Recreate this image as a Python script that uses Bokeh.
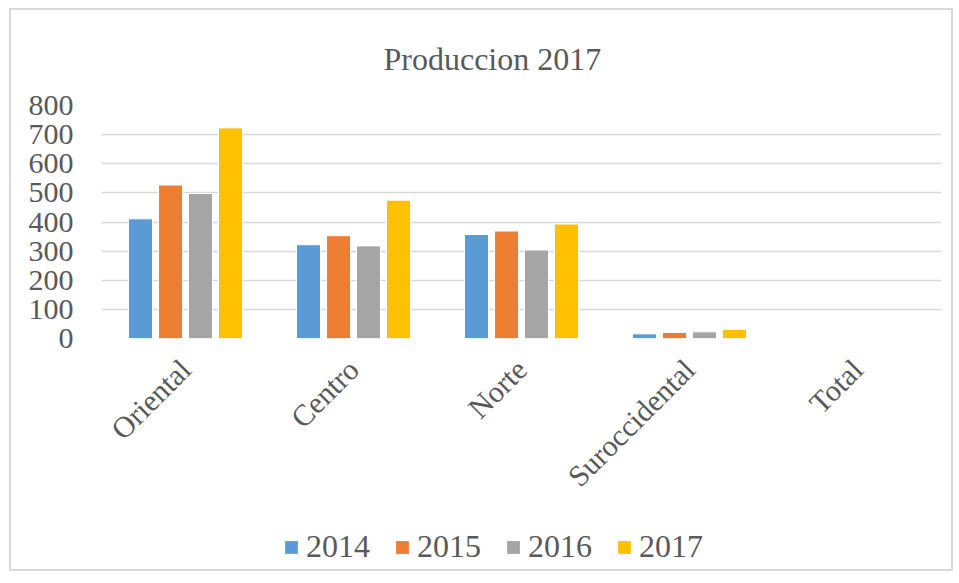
import math
from bokeh.plotting import figure
from bokeh.layouts import column
from bokeh.models import ColumnDataSource, FactorRange, Legend, LegendItem, Title, Range1d
from bokeh.transform import dodge
from bokeh.embed import file_html
from bokeh.resources import INLINE

categories = ["Oriental", "Centro", "Norte", "Suroccidental", "Total"]
years = ["2014", "2015", "2016", "2017"]
v2014 = [411, 322, 357, 16, 0]
v2015 = [527, 353, 369, 21, 0]
v2016 = [498, 318, 304, 23, 0]
v2017 = [723, 475, 393, 31, 0]
colors = ["#5B9BD5", "#ED7D31", "#A5A5A5", "#FFC000"]
y_ticks = [0, 100, 200, 300, 400, 500, 600, 700, 800]

src = ColumnDataSource(dict(cat=categories, y2014=v2014, y2015=v2015, y2016=v2016, y2017=v2017))

FONT = "Liberation Serif"
TXT = "#595959"

p = figure(x_range=FactorRange(*categories, range_padding=0), y_range=(0, 800),
           frame_width=840, frame_height=233, output_backend="svg", toolbar_location=None,
           min_border_left=90, min_border_right=10, min_border_top=94, min_border_bottom=0,
           outline_line_color=None)

offsets = [-0.268, -0.089, 0.089, 0.268]
for yr, off, c in zip(years, offsets, colors):
    p.vbar(x=dodge("cat", off, range=p.x_range), top="y" + yr, width=0.143, source=src,
           fill_color=c, line_color="white", line_width=1)

p.title = Title(text="Produccion 2017", align="left", text_font=FONT, text_font_size="32px",
                text_color=TXT, text_font_style="normal", standoff=57, offset=282)

p.xgrid.grid_line_color = None
p.ygrid.grid_line_color = "#D9D9D9"
p.ygrid.grid_line_width = 1.5
p.yaxis.ticker = y_ticks
for ax in (p.xaxis, p.yaxis):
    ax.axis_line_color = None
    ax.major_tick_line_color = None
    ax.minor_tick_line_color = None
    ax.major_label_text_font = FONT
    ax.major_label_text_color = TXT
    ax.major_label_text_font_size = "30px"
p.yaxis.major_label_standoff = 22
p.xaxis.major_label_orientation = math.pi / 4
p.xaxis.major_label_standoff = 20

# legend strip
lg = figure(x_range=Range1d(0, 1), y_range=Range1d(0, 1), frame_width=840, frame_height=62,
            output_backend="svg", toolbar_location=None, min_border_left=90, min_border_right=10,
            min_border_top=0, min_border_bottom=0, outline_line_color=None)
lg.axis.visible = False
lg.grid.visible = False
lsrc = ColumnDataSource(dict(x=[-5.0], top=[-5.0]))
lrs = [lg.vbar(x="x", top="top", width=0.1, source=lsrc, fill_color=c, line_color=None) for c in colors]
legend = Legend(items=[LegendItem(label=yr, renderers=[r]) for yr, r in zip(years, lrs)],
                orientation="horizontal", location=(182, 4), label_text_font=FONT,
                label_text_font_size="32px", label_text_color=TXT, glyph_width=16, glyph_height=16,
                label_standoff=7, spacing=24, border_line_color=None, background_fill_alpha=0,
                padding=4, margin=0)
lg.add_layout(legend, "center")

layout = column(p, lg, spacing=0, margin=(8, 0, 0, 9), styles={"border": "2px solid #d9d9d9"})

open("out.html", "w").write(file_html(layout, INLINE))
